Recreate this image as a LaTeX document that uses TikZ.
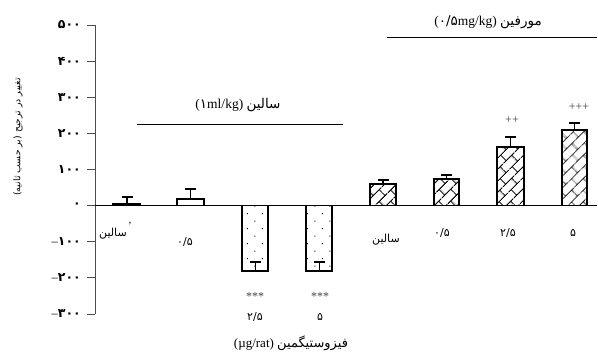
\documentclass[tikz,border=0pt]{standalone}
\usepackage{fontspec}
\setmainfont{Liberation Serif}
\newfontfamily\fa[Script=Arabic]{DejaVu Sans}
\TeXXeTstate=1
\usetikzlibrary{patterns.meta}
\tikzdeclarepattern{
	name=brick,
	type=uncolored,
	bounding box={(0,0) and (17pt,17pt)},
	tile size={(17pt,17pt)},
	tile transformation={rotate=45},
	code={
		\draw[line width=1pt] (0,4.25pt) -- (17pt,4.25pt) (0,12.75pt) -- (17pt,12.75pt)
			(4pt,4.25pt) -- (4pt,12.75pt) (12.5pt,12.75pt) -- (12.5pt,17pt) (12.5pt,0) -- (12.5pt,4.25pt);
	}
}
\tikzset{
	axis/.style={line width=0.9pt,draw=black!70},
	bar/.style={draw,line width=1.3pt},
	dotbar/.style={bar,pattern={Dots[distance=10.6pt,angle=45,radius=0.75pt]}},
	brickbar/.style={bar,pattern=brick},
	err/.style={line width=1.2pt},
	tick/.style={font=\fa\bfseries\fontsize{12.5}{13}\selectfont,anchor=east,inner sep=0pt},
	lbl/.style={font=\fontsize{11}{12}\selectfont,inner sep=0pt},
	head/.style={font=\fontsize{13.5}{15}\selectfont,inner sep=0pt},
	sig/.style={font=\fontsize{12}{13}\selectfont,inner sep=0pt,text=black!75}
}
\begin{document}
\begin{tikzpicture}[x=1pt,y=-1pt]
	\useasboundingbox (0,0) rectangle (598,356);
	% bars
	\draw[bar,fill=black] (113,203.5) rectangle (140,205.6);
	\draw[dotbar] (177,199) rectangle (204,205.6);
	\draw[dotbar] (242,205.6) rectangle (268,271);
	\draw[dotbar] (306,205.6) rectangle (332,271);
	\draw[brickbar] (370,184) rectangle (396,205.6);
	\draw[brickbar] (434,179) rectangle (459,205.6);
	\draw[brickbar] (497,147) rectangle (524,205.6);
	\draw[brickbar] (562,130) rectangle (587,205.6);
	% error bars
	\draw[err] (127,203.5) -- (127,197) (121.5,197) -- (132.5,197);
	\draw[err] (190.5,199) -- (190.5,189) (185,189) -- (196,189);
	\draw[err] (255.5,271) -- (255.5,262) (250,262) -- (261,262);
	\draw[err] (319.5,271) -- (319.5,262) (314,262) -- (325,262);
	\draw[err] (383,184) -- (383,180) (377.5,180) -- (388.5,180);
	\draw[err] (446.5,179) -- (446.5,175) (441,175) -- (452,175);
	\draw[err] (510.5,147) -- (510.5,137) (505,137) -- (516,137);
	\draw[err] (574.5,130) -- (574.5,123) (569,123) -- (580,123);
	% axes
	\coordinate (ytop) at (95,25);
	\coordinate (ybot) at (95,314);
	\coordinate (zl) at (95,205.6);
	\coordinate (zr) at (597,205.6);
	\draw[axis] (ytop) -- (ybot);
	\draw[line width=0.8pt] (zl) -- (zr);
	\foreach \v/\t in {500/۵۰۰,400/۴۰۰,300/۳۰۰,200/۲۰۰,100/۱۰۰,0/۰,-100/{{\rmfamily\mdseries –}۱۰۰},-200/{{\rmfamily\mdseries –}۲۰۰},-300/{{\rmfamily\mdseries –}۳۰۰}}{
		\draw[axis] (87,{205.6-0.36125*\v}) -- (95,{205.6-0.36125*\v});
		\node[tick] (t\v) at (81,{205.6-0.36125*\v}) {\t};
	}
	\node[lbl,font=\fontsize{9.3}{11}\selectfont,rotate=90] (ylab) at (18,137) {\fa\beginR تغییر در ترجیح (بر حسب ثانیه)\endR};
	% group labels
	\coordinate (sl) at (137,124);
	\coordinate (sr) at (343,124);
	\draw[line width=0.9pt] (sl) -- (sr);
	\node[head] (saltop) at (238,105) {({\fa ۱}ml/kg) {\fa\beginR سالین\endR}};
	\coordinate (ml) at (387,37);
	\coordinate (mr) at (597,37);
	\draw[line width=0.9pt] (ml) -- (mr);
	\node[head] (mortop) at (488,22) {({\fa ۰/۵}mg/kg) {\fa\beginR مورفین\endR}};
	% bar labels
	\node[lbl] (sal1) at (113,234) {\fa\beginR سالین\endR};
	\node[lbl] (mark1) at (130,226) {’};
	\node[lbl] (ph1) at (185,242) {\fa ۰/۵};
	\node[lbl] (ph2) at (255,317) {\fa ۲/۵};
	\node[lbl] (ph3) at (320,317) {\fa ۵};
	\node[sig] (st2) at (255,297) {***};
	\node[sig] (st3) at (320,297) {***};
	\node[head,font=\fontsize{13}{14}\selectfont] (xlab) at (291,343) {(µg/rat) {\fa\beginR فیزوستیگمین\endR}};
	\node[lbl] (sal2) at (386,240) {\fa\beginR سالین\endR};
	\node[lbl] (mo1) at (442,233) {\fa ۰/۵};
	\node[lbl] (mo2) at (508,233) {\fa ۲/۵};
	\node[lbl] (mo3) at (573,233) {\fa ۵};
	\node[sig] (pl2) at (512,120) {++};
	\node[sig] (pl3) at (579,107) {+++};
\end{tikzpicture}
\end{document}
